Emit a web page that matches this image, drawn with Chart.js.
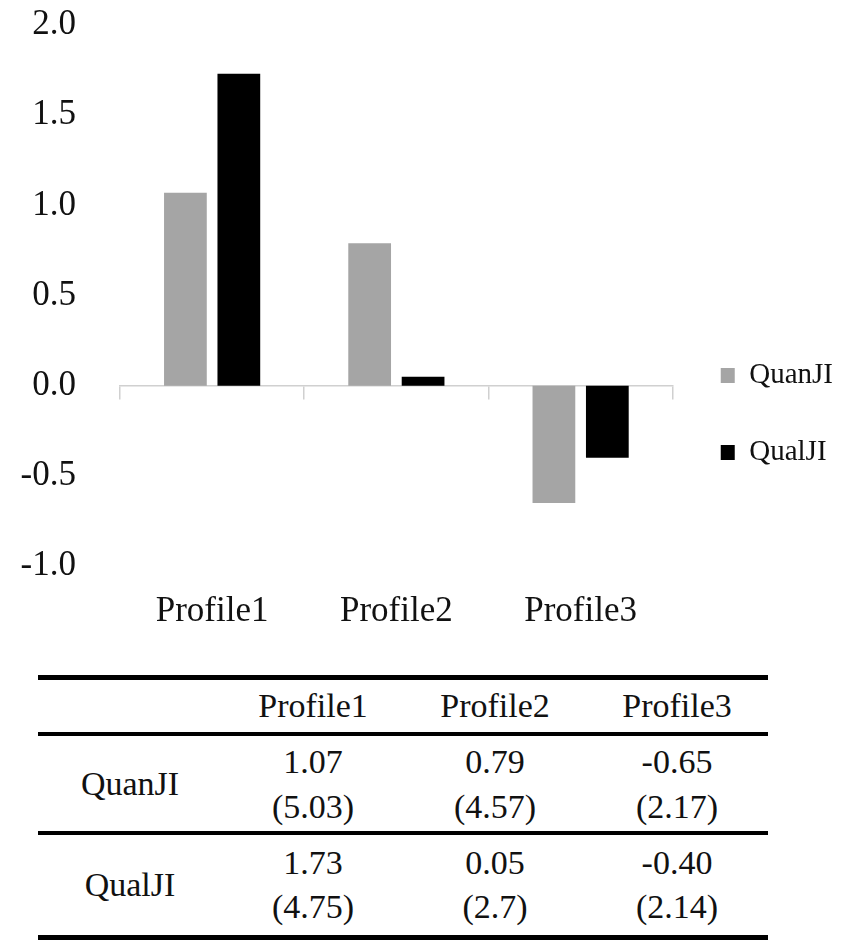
<!DOCTYPE html>
<html>
<head>
<meta charset="utf-8">
<script src="https://cdn.jsdelivr.net/npm/chart.js@4.4.0/dist/chart.umd.min.js"></script>
<style>
  body { margin: 0; background: #fff; }
  #wrap { position: relative; width: 850px; height: 650px; }
  table {
    margin-left: 38px; margin-top: 25px; width: 730px;
    border-collapse: collapse; table-layout: fixed;
    font-family: 'Liberation Serif', serif; font-size: 34px; color: #111;
  }
  td, th { text-align: center; font-weight: normal; padding: 0; }
  tr.head th { height: 52px; border-top: 5px solid #000; border-bottom: 4px solid #000; }
  tr.r1 td { height: 95px; border-bottom: 4px solid #000; line-height: 45px; }
  tr.r2 td { height: 100px; border-bottom: 5px solid #000; line-height: 44px; }
  th.lab { width: 184px; }
</style>
</head>
<body>
<div id="wrap"><canvas id="myChart" width="850" height="650"></canvas></div>
<table id="tbl"></table>
<script>
// categories and series
const categories = ['Profile1', 'Profile2', 'Profile3'];
const quanJI = [1.07, 0.79, -0.65];
const qualJI = [1.73, 0.05, -0.40];
// values in brackets under each mean (table)
const quanJISd = [5.03, 4.57, 2.17];
const qualJISd = [4.75, 2.7, 2.14];
// y axis ticks
const yMin = -1.0;
const yMax = 2.0;
const yStep = 0.5;

var serif = "'Liberation Serif', 'Times New Roman', serif";
var ctx = document.getElementById('myChart').getContext('2d');

var myChart = new Chart(ctx, {
  type: 'bar',
  data: {
    labels: categories,
    datasets: [{
      label: 'QuanJI',
      data: quanJI,
      backgroundColor: '#a5a5a5',
      categoryPercentage: 0.58,
      barPercentage: 0.8
    }, {
      label: 'QualJI',
      data: qualJI,
      backgroundColor: '#000000',
      categoryPercentage: 0.58,
      barPercentage: 0.8
    }]
  },
  options: {
    responsive: false,
    animation: false,
    layout: { padding: { left: 0, right: 7, top: 25, bottom: 17 } },
    scales: {
      // zero line with the category tick marks
      x: {
        type: 'category',
        position: { y: 0 },
        ticks: { display: false },
        border: { display: true, color: '#d0d0d0', width: 1.5 },
        grid: { display: true, drawOnChartArea: false, drawTicks: true, tickLength: 13, offset: true, color: '#d0d0d0', lineWidth: 1.5 },
        afterFit: function(scale) { scale.height = 0; }
      },
      // category names at the bottom
      x2: {
        type: 'category',
        position: 'bottom',
        labels: categories,
        border: { display: false },
        grid: { display: false, drawTicks: false },
        ticks: { color: '#111', font: { family: serif, size: 35 }, padding: 25 },
        afterFit: function(scale) { scale.height = 67; }
      },
      y: {
        min: yMin,
        max: yMax,
        border: { display: false },
        grid: { display: false, drawTicks: false },
        ticks: {
          stepSize: yStep,
          padding: 44,
          color: '#111',
          font: { family: serif, size: 35 },
          callback: function(v) { return v.toFixed(1); }
        },
        afterFit: function(scale) {
          scale.width = 120;
          scale.paddingTop = 0;
          scale.paddingBottom = 0;
        }
      }
    },
    plugins: {
      tooltip: { enabled: false },
      legend: {
        position: 'right',
        align: 'start',
        title: { display: true, text: ' ', font: { size: 10 }, padding: { top: 276, bottom: 0 } },
        labels: {
          boxWidth: 14,
          boxHeight: 15,
          padding: 48,
          color: '#111',
          font: { family: serif, size: 29 }
        }
      }
    }
  }
});

// table under the chart
var tbl = document.getElementById('tbl');
var html = '<tr class="head"><th class="lab"></th>';
categories.forEach(function(c) { html += '<th>' + c + '</th>'; });
html += '</tr>';
var rows = [['QuanJI', quanJI, quanJISd, 'r1'], ['QualJI', qualJI, qualJISd, 'r2']];
rows.forEach(function(r) {
  html += '<tr class="' + r[3] + '"><td>' + r[0] + '</td>';
  for (var i = 0; i < categories.length; i++) {
    html += '<td>' + r[1][i].toFixed(2) + '<br>(' + r[2][i] + ')</td>';
  }
  html += '</tr>';
});
tbl.innerHTML = html;
</script>
</body>
</html>
